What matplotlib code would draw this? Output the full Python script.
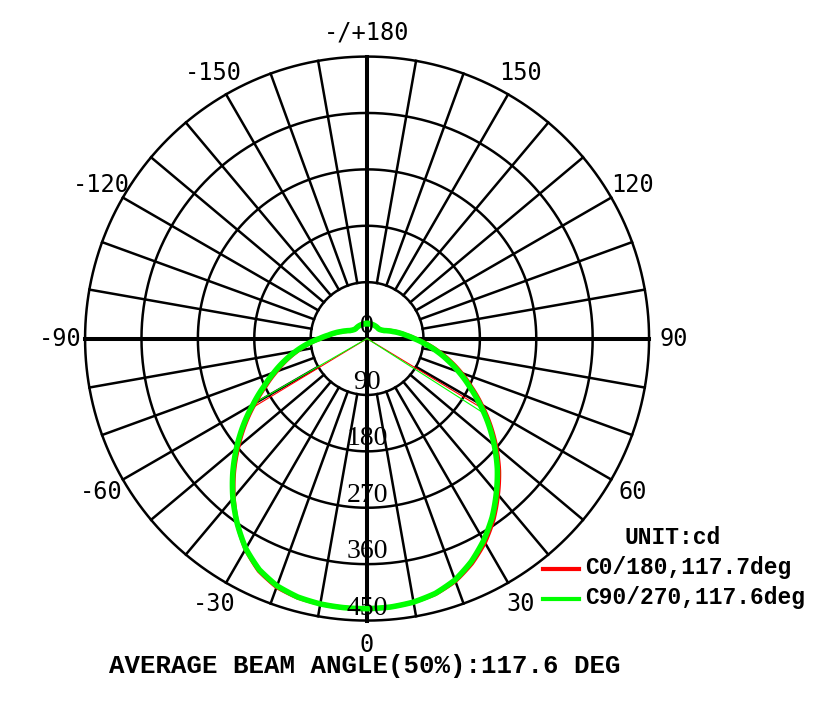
# Polar light distribution curve (candela)

import numpy as np
import matplotlib.pyplot as plt
from matplotlib.lines import Line2D

# -----------------------------
# Data
# -----------------------------
gamma = [0, 5, 10, 15, 20, 25, 30, 35, 40, 45, 50, 55, 60, 65, 70, 75, 80, 85, 90,
         95, 100, 105, 110, 115, 120, 125, 130, 135, 140, 145, 150, 155, 160, 165, 170, 175, 180]

c0 = [431, 430, 427, 422, 412, 396, 376, 352, 325, 298, 269, 240, 211, 184, 160, 137, 115, 95, 77,
      63, 53, 44, 37, 31, 27, 25, 24, 24, 24, 24, 24, 24, 24, 24, 24, 24, 24]
c180 = [431, 431, 430, 428, 422, 409, 388, 361, 331, 300, 268, 237, 206, 178, 154, 133, 112, 93, 74,
        61, 51, 42, 35, 30, 27, 25, 24, 24, 24, 24, 24, 24, 24, 24, 24, 24, 24]
c90 = [431, 430, 427, 421, 410, 393, 372, 348, 321, 294, 265, 236, 207, 180, 156, 133, 112, 92, 75,
       62, 52, 43, 36, 30, 27, 25, 24, 24, 24, 24, 24, 24, 24, 24, 24, 24, 24]
c270 = [431, 431, 430, 427, 420, 407, 387, 361, 333, 303, 272, 241, 210, 182, 158, 136, 115, 95, 76,
        62, 52, 43, 36, 30, 27, 25, 24, 24, 24, 24, 24, 24, 24, 24, 24, 24, 24]

# half beam angles (deg) on each side: right, left
half_red = [58.8, 58.9]
half_green = [57.4, 60.2]

ring_levels = [0, 90, 180, 270, 360, 450]
angle_ticks = [180, 150, 120, 90, 60, 30, 0, -30, -60, -90, -120, -150]
angle_labels = ['-/+180', '150', '120', '90', '60', '30', '0', '-30', '-60', '-90', '-120', '-150']

title = 'AVERAGE BEAM ANGLE(50%):117.6 DEG'
names = ['C0/180,117.7deg', 'C90/270,117.6deg']
RED = '#ff0000'
GREEN = '#00ff00'

# -----------------------------
# Figure and grid
# -----------------------------
fig = plt.figure(figsize=(8.14, 7.16), dpi=100)
ax = fig.add_axes([0.1045, 0.1333, 0.6929, 0.7877], projection='polar')
ax.set_theta_zero_location('S')
ax.set_theta_direction(1)
ax.set_rlim(0, 450)
ax.set_xticks([])
ax.set_yticks([])
ax.spines['polar'].set_visible(False)
ax.grid(False)

th_full = np.linspace(0, 2 * np.pi, 721)
for r in ring_levels[1:]:
    ax.plot(th_full, np.full_like(th_full, r), color='k', lw=1.8, clip_on=False)

for a in range(0, 360, 10):
    t = np.radians(a)
    if a % 90 == 0:
        ax.plot([t, t], [0, 450], color='k', lw=2.9, clip_on=False)
    else:
        ax.plot([t, t], [90, 450], color='k', lw=1.8, clip_on=False)

# angle labels
for a, s in zip(angle_ticks, angle_labels):
    ax.text(np.radians(a), 489, s, ha='center', va='center',
            fontsize=17, family='DejaVu Sans Mono')

# -----------------------------
# Curves
# -----------------------------
g = np.array(gamma, dtype=float)
g_rad = np.radians(g)


def half_lines(right, left, half, color):
    for sign, vals, h in ((1, right, half[0]), (-1, left, half[1])):
        r = np.interp(h, g, vals)
        ax.plot([0, sign * np.radians(h)], [0, r], color=color, lw=0.8, clip_on=False)


half_lines(c0, c180, half_red, RED)
half_lines(c90, c270, half_green, GREEN)

red_th = np.concatenate([-g_rad[::-1], g_rad[1:]])
red_r = np.concatenate([np.array(c180)[::-1], np.array(c0)[1:]])
green_th = np.concatenate([-g_rad[::-1], g_rad[1:]])
green_r = np.concatenate([np.array(c270)[::-1], np.array(c90)[1:]])

for th, rr, c, w in ((red_th, red_r, RED, 3.0), (green_th, green_r, GREEN, 4.0)):
    ln, = ax.plot(th, rr, color=c, lw=w, clip_on=False, solid_joinstyle='round')
    ln.get_path()._interpolation_steps = 20  # draw segments as arcs in polar space

# radial labels
for r in ring_levels:
    ax.text(0, r, str(r), ha='center', va='bottom', fontsize=20,
            family='Liberation Serif')

# -----------------------------
# Legend and title
# -----------------------------
fig.text(0.4484, 0.0698, title, ha='center', va='center', fontsize=18.5,
         family='Liberation Mono', weight='bold')
fig.text(0.7666, 0.25, 'UNIT:cd', ha='left', va='center', fontsize=16.5,
         family='Liberation Mono', weight='bold')
for y_line, y_text, c, n in ((0.2053, 0.2081, RED, names[0]),
                             (0.1634, 0.1662, GREEN, names[1])):
    fig.add_artist(Line2D([0.667, 0.711], [y_line, y_line], color=c, lw=3,
                          transform=fig.transFigure))
    fig.text(0.7187, y_text, n, ha='left', va='center', fontsize=16.5,
             family='Liberation Mono', weight='bold')

plt.savefig('out.png', dpi=100)
